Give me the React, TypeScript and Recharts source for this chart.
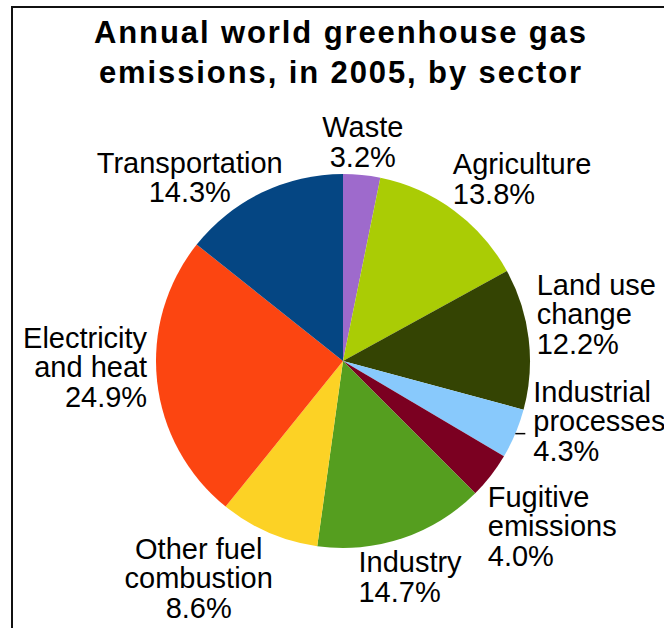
import React from "react";
import { PieChart, Pie, Cell } from "recharts";

const sectors = [
  "Waste",
  "Agriculture",
  "Land use change",
  "Industrial processes",
  "Fugitive emissions",
  "Industry",
  "Other fuel combustion",
  "Electricity and heat",
  "Transportation",
];
const shares = [3.2, 13.8, 12.2, 4.3, 4.0, 14.7, 8.6, 24.9, 14.3];
const labelText = [
  ["Waste"],
  ["Agriculture"],
  ["Land use", "change"],
  ["Industrial", "processes"],
  ["Fugitive", "emissions"],
  ["Industry"],
  ["Other fuel", "combustion"],
  ["Electricity", "and heat"],
  ["Transportation"],
];
const titleLines = ["Annual world greenhouse gas", "emissions, in 2005, by sector"];

const colors = [
  "#9e6acc",
  "#aacc05",
  "#344403",
  "#88c9fc",
  "#7b0021",
  "#559e1f",
  "#fcd225",
  "#fc4511",
  "#054683",
];

// where each label sits, relative to the outer edge point of its slice
const labelLayout = [
  { anchor: "middle", dx: 1, dy: -38 },
  { anchor: "start", dx: -1, dy: -36 },
  { anchor: "start", dx: 8, dy: -44 },
  { anchor: "start", dx: 18, dy: -32, leader: true },
  { anchor: "start", dx: -3, dy: 31 },
  { anchor: "start", dx: -44, dy: 34 },
  { anchor: "middle", dx: -70, dy: 26 },
  { anchor: "end", dx: -10, dy: -34 },
  { anchor: "middle", dx: -72, dy: -20 },
];

const data = sectors.map((name, i) => ({ name, value: shares[i] }));

const RADIAN = Math.PI / 180;
const LINE_H = 29.7;
const FONT = "'Liberation Sans', Arial, sans-serif";

const renderLabel = (props: any) => {
  const { cx, cy, midAngle, outerRadius, index, value } = props;
  const px = cx + outerRadius * Math.cos(-midAngle * RADIAN);
  const py = cy + outerRadius * Math.sin(-midAngle * RADIAN);
  const lay = labelLayout[index];
  const x = px + lay.dx;
  const y = py + lay.dy;
  const lines = [...labelText[index], `${value.toFixed(1)}%`];
  return (
    <g key={`lbl-${index}`}>
      {lay.leader && (
        <line x1={px} y1={py} x2={px + 10} y2={py} stroke="#000" strokeWidth={1.5} />
      )}
      <text
        x={x}
        y={y}
        textAnchor={lay.anchor}
        fontFamily={FONT}
        fontSize={29}
        fill="#000"
      >
        {lines.map((l, k) => (
          <tspan key={k} x={x} y={y + k * LINE_H}>
            {l}
          </tspan>
        ))}
      </text>
    </g>
  );
};

export default function App() {
  return (
    <div
      style={{
        position: "fixed",
        left: 0,
        top: 0,
        width: 664,
        height: 628,
        overflow: "hidden",
        background: "#fff",
      }}
    >
      <div style={{ position: "absolute", left: 0, top: 0 }}>
        <PieChart
          width={664}
          height={628}
          margin={{ top: 0, right: 0, bottom: 0, left: 0 }}
        >
          <Pie
            data={data}
            dataKey="value"
            nameKey="name"
            cx={343}
            cy={361}
            outerRadius={187}
            startAngle={90}
            endAngle={-270}
            stroke="none"
            label={renderLabel}
            labelLine={false}
            isAnimationActive={false}
          >
            {data.map((d, i) => (
              <Cell key={d.name} fill={colors[i]} />
            ))}
          </Pie>
        </PieChart>
      </div>
      <svg
        width={664}
        height={628}
        style={{ position: "absolute", left: 0, top: 0, pointerEvents: "none" }}
      >
        <path d="M12,640 V7 H680" fill="none" stroke="#111" strokeWidth={2} />
        {titleLines.map((t, i) => (
          <text
            key={t}
            x={341}
            y={43 + i * 40}
            textAnchor="middle"
            fontFamily={FONT}
            fontWeight="bold"
            fontSize={31}
            letterSpacing={1.9}
            fill="#000"
          >
            {t}
          </text>
        ))}
      </svg>
    </div>
  );
}
